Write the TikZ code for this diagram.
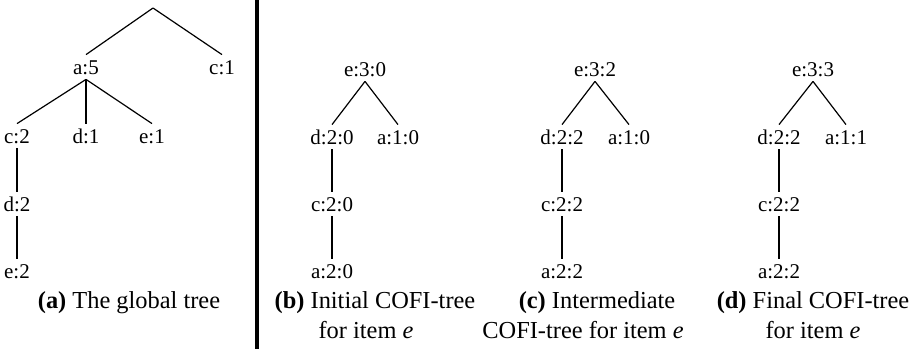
\documentclass[tikz,border=0pt]{standalone}
\usepackage{fontspec}
\setmainfont{Liberation Serif}
\begin{document}
\begin{tikzpicture}[x=0.5pt,y=-0.5pt,
  lbl/.style={inner sep=0pt, minimum height=12pt, text height=7.1pt, text depth=0pt,
    font=\fontsize{10.5pt}{12pt}\selectfont},
  captxt/.style={inner sep=0pt, anchor=base, font=\fontsize{12.2pt}{15pt}\selectfont},
  link/.style={line width=0.6pt}]
\useasboundingbox (0,0) rectangle (920,349);

% separating bar
\fill (255,0) rectangle (259,349);

% (a) the global tree
\coordinate (ga) at (153,8);
\node[lbl] (ga5) at (86,67) {a:5};
\node[lbl] (gc1) at (222,67) {c:1};
\node[lbl] (gc2) at (17,136) {c:2};
\node[lbl] (gd1) at (86,136) {d:1};
\node[lbl] (ge1) at (152,136) {e:1};
\node[lbl] (gd2) at (17,204) {d:2};
\node[lbl] (ge2) at (17,271) {e:2};
\draw[link] (ga) -- (ga5.north);
\draw[link] (ga) -- (gc1.north);
\draw[link] (ga5.south) -- (gc2.north);
\draw[link] (ga5.south) -- (gd1.north);
\draw[link] (ga5.south) -- (ge1.north);
\draw[link] (gc2) -- (gd2);
\draw[link] (gd2) -- (ge2);
\node[captxt] (capa) at (129,308) {\textbf{(a)} The global tree};

% (b) initial COFI-tree
\node[lbl] (be) at (365,69) {e:3:0};
\node[lbl] (bd) at (332,137) {d:2:0};
\node[lbl] (ba) at (398,137) {a:1:0};
\node[lbl] (bc) at (332,204) {c:2:0};
\node[lbl] (ba2) at (332,271) {a:2:0};
\draw[link] (be.south) -- (bd.north);
\draw[link] (be.south) -- (ba.north);
\draw[link] (bd) -- (bc);
\draw[link] (bc) -- (ba2);
\node[captxt] (capb1) at (375,308) {\textbf{(b)} Initial COFI-tree};
\node[captxt] (capb2) at (366,338) {for item \textit{e}};

% (c) intermediate COFI-tree
\node[lbl] (ce) at (595,69) {e:3:2};
\node[lbl] (cd) at (562,137) {d:2:2};
\node[lbl] (ca) at (629,137) {a:1:0};
\node[lbl] (cc) at (562,204) {c:2:2};
\node[lbl] (ca2) at (562,271) {a:2:2};
\draw[link] (ce.south) -- (cd.north);
\draw[link] (ce.south) -- (ca.north);
\draw[link] (cd) -- (cc);
\draw[link] (cc) -- (ca2);
\node[captxt] (capc1) at (597,308) {\textbf{(c)} Intermediate};
\node[captxt] (capc2) at (583,338) {COFI-tree for item \textit{e}};

% (d) final COFI-tree
\node[lbl] (de) at (813,69) {e:3:3};
\node[lbl] (dd) at (779,137) {d:2:2};
\node[lbl] (da) at (846,137) {a:1:1};
\node[lbl] (dc) at (779,204) {c:2:2};
\node[lbl] (da2) at (779,271) {a:2:2};
\draw[link] (de.south) -- (dd.north);
\draw[link] (de.south) -- (da.north);
\draw[link] (dd) -- (dc);
\draw[link] (dc) -- (da2);
\node[captxt] (capd1) at (813,308) {\textbf{(d)} Final COFI-tree};
\node[captxt] (capd2) at (813,338) {for item \textit{e}};
\end{tikzpicture}
\end{document}
